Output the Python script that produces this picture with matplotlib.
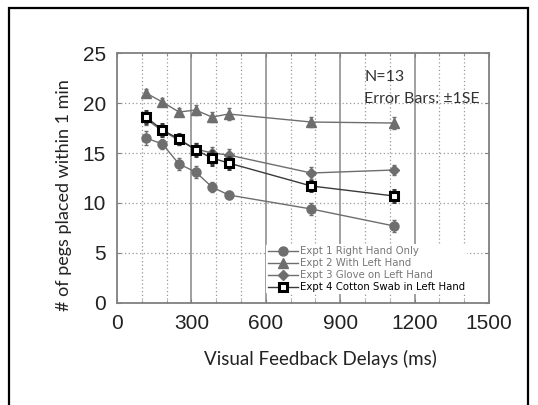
import matplotlib
matplotlib.use('Agg')
from matplotlib import pyplot as plt
import matplotlib.patches as patches
from matplotlib.ticker import MultipleLocator

# visual feedback delays (ms)
delays = [117, 183, 250, 317, 383, 450, 783, 1117]

# pegs placed within 1 min
expt1 = [16.5, 15.9, 13.9, 13.1, 11.6, 10.8, 9.4, 7.7]
expt2 = [21.0, 20.1, 19.1, 19.3, 18.6, 18.9, 18.1, 18.0]
expt3 = [18.4, 17.2, 16.3, 15.4, 15.0, 14.8, 13.0, 13.3]
expt4 = [18.6, 17.3, 16.4, 15.3, 14.5, 14.0, 11.7, 10.7]

err1 = [0.7, 0.5, 0.6, 0.6, 0.5, 0.4, 0.6, 0.6]
err2 = [0.4, 0.4, 0.4, 0.5, 0.5, 0.6, 0.5, 0.6]
err3 = [0.6, 0.5, 0.5, 0.6, 0.6, 0.6, 0.6, 0.5]
err4 = [0.6, 0.6, 0.5, 0.6, 0.7, 0.6, 0.5, 0.6]

labels = ['Expt 1 Right Hand Only',
          'Expt 2 With Left Hand',
          'Expt 3 Glove on Left Hand',
          'Expt 4 Cotton Swab in Left Hand']

fig = plt.figure(figsize=(5.38, 4.05), dpi=100)
ax = fig.add_axes([0.2175, 0.252, 0.6915, 0.617])

# outer frame of the figure
fig.patches.append(patches.Rectangle((9 / 538, -0.1), 519 / 538, 1.1 - 8 / 405,
                                     transform=fig.transFigure, fill=False,
                                     edgecolor='black', linewidth=1.6))

ax.set_xlim(0, 1500)
ax.set_ylim(0, 25)
ax.xaxis.set_major_locator(MultipleLocator(300))
ax.xaxis.set_minor_locator(MultipleLocator(100))
ax.yaxis.set_major_locator(MultipleLocator(5))

# grid: dotted every 100 ms, solid every 300 ms
for x in range(100, 1500, 100):
    if x % 300 == 0:
        ax.axvline(x, color='#999999', linewidth=1.3, zorder=0)
    else:
        ax.axvline(x, color='#9a9a9a', linewidth=0.9, linestyle=(0, (1, 2)), zorder=0)
for y in [5, 10, 15, 20]:
    ax.axhline(y, color='#9a9a9a', linewidth=0.9, linestyle=(0, (1, 2)), zorder=0)

grey = '#6e6e6e'
c1 = ax.errorbar(delays, expt1, yerr=err1, color=grey, marker='o', markersize=6.5,
                 linewidth=1.0, elinewidth=1.0, capsize=1.5, zorder=3)
c2 = ax.errorbar(delays, expt2, yerr=err2, color=grey, marker='^', markersize=6.5,
                 linewidth=1.0, elinewidth=1.0, capsize=1.5, zorder=3)
c3 = ax.errorbar(delays, expt3, yerr=err3, color=grey, marker='D', markersize=5.5,
                 linewidth=1.0, elinewidth=1.0, capsize=1.5, zorder=3)
c4 = ax.errorbar(delays, expt4, yerr=err4, color='#3a3a3a', marker='s', markersize=6,
                 markerfacecolor='white', markeredgecolor='black', markeredgewidth=2.2,
                 linewidth=1.0, elinewidth=1.0, capsize=1.5, zorder=4)

for s in ax.spines.values():
    s.set_color('#808080')
    s.set_linewidth(1.3)

ax.tick_params(which='both', direction='in', top=True, right=True, color='#808080')
ax.tick_params(which='major', length=3, labelsize=15, pad=8)
ax.tick_params(which='minor', length=2)
for t in ax.get_xticklabels() + ax.get_yticklabels():
    t.set_fontfamily('Liberation Sans')
    t.set_color('#222222')

ax.set_xlabel('Visual Feedback Delays (ms)', fontsize=13.5, family='Lato',
              color='#222222')
ax.set_ylabel('# of pegs placed within 1 min', fontsize=13, family='Lato',
              color='#222222')
ax.xaxis.set_label_coords(0.546, -0.19)
ax.yaxis.set_label_coords(-0.12, 0.43)

ax.text(0.665, 0.905, 'N=13', transform=ax.transAxes, fontsize=11.5,
        family='Lato', color='#333333', va='center')
ax.text(0.665, 0.818, 'Error Bars: \u00b11SE', transform=ax.transAxes, fontsize=11.5,
        family='Lato', color='#333333', va='center')

handles = [c[0] for c in (c1, c2, c3, c4)]
leg = ax.legend(handles, labels, loc='lower left', bbox_to_anchor=(0.4, 0.035),
                fontsize=7.3, frameon=True, facecolor='white', edgecolor='none',
                framealpha=1, borderpad=0.2, labelspacing=0.2, handlelength=3.0,
                handletextpad=0.2, borderaxespad=0)
for i, t in enumerate(leg.get_texts()):
    t.set_color('black' if i == 3 else '#777777')

fig.savefig('out.png', dpi=100, facecolor='white')
